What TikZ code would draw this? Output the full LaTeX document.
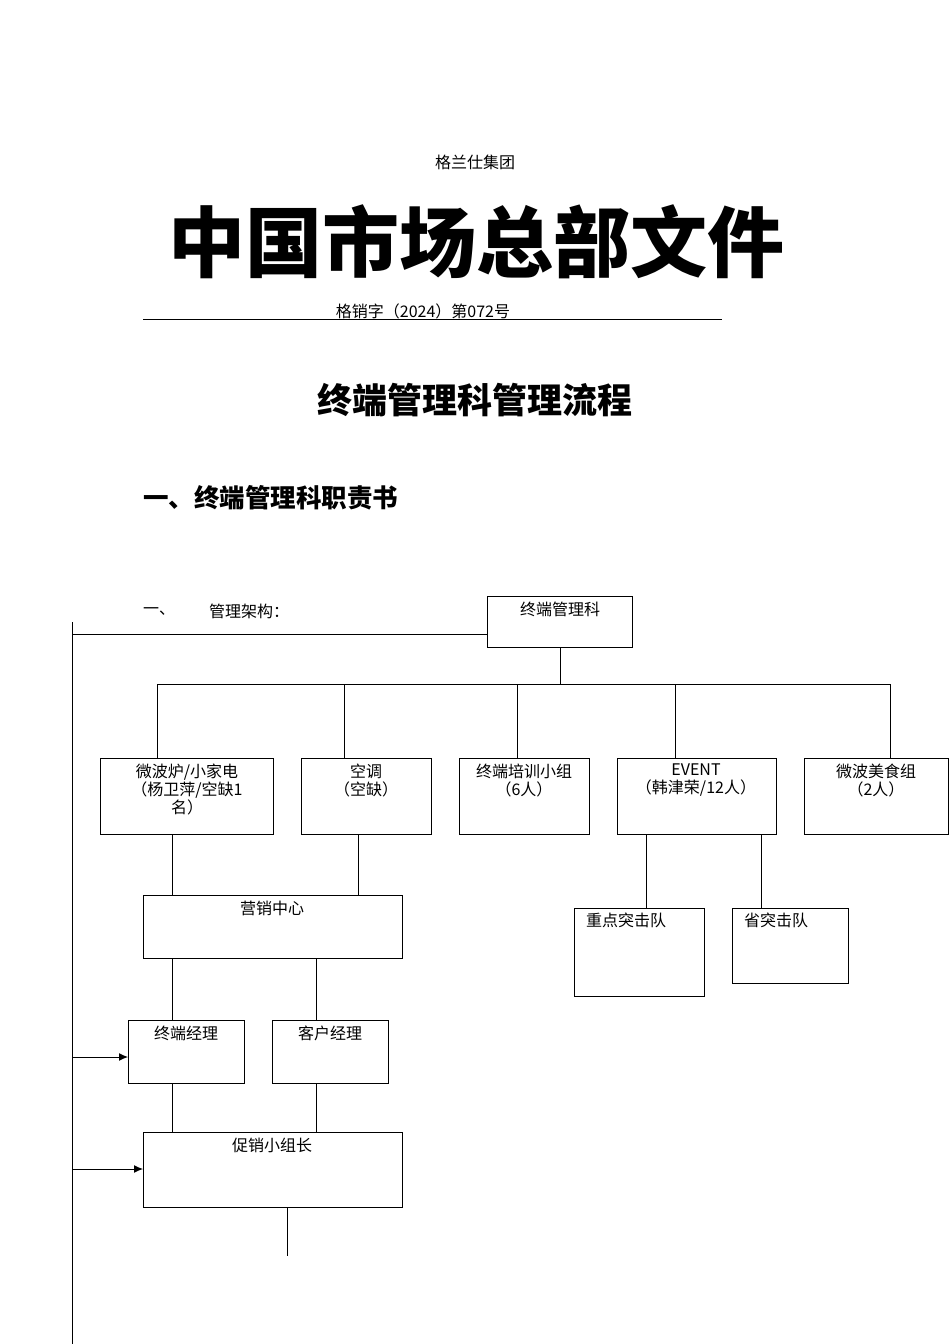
\documentclass[tikz,border=0pt]{standalone}
\usepackage{fontspec}
\usetikzlibrary{arrows.meta}
\setmainfont{Liberation Serif}
\newfontfamily\cjk{Noto Sans CJK SC}
\begin{document}
\begin{tikzpicture}[x=1pt,y=-1pt,
  bx/.style={draw,line width=1pt},
  ln/.style={line width=1pt},
  lab/.style={font=\cjk\fontsize{16}{18}\selectfont,align=center,anchor=north,inner sep=0pt}]
\useasboundingbox (0,0) rectangle (950,1344);
\node[font=\cjk\fontsize{16}{18}\selectfont] (grp) at (475,162) {格兰仕集团};
\node[font=\cjk\bfseries\fontsize{77}{85}\selectfont] (ttl) at (476,242) {中国市场总部文件};
\node[font=\cjk\fontsize{16}{18}\selectfont] (num) at (423,311) {格销字（2024）第072号};
\draw[ln] (143,319) coordinate (r1) -- (722,319) coordinate (r2);
\node[font=\cjk\bfseries\fontsize{35}{40}\selectfont] (h1) at (475,400) {终端管理科管理流程};
\node[font=\cjk\bfseries\fontsize{25.5}{30}\selectfont,anchor=west,inner sep=0pt] (h2) at (143,498) {一、终端管理科职责书};
\node[font=\cjk\fontsize{16}{18}\selectfont,anchor=west,inner sep=0pt] (h3a) at (143,611) {一、};
\node[font=\cjk\fontsize{16}{18}\selectfont,anchor=west,inner sep=0pt] (h3) at (209,611) {管理架构：};
% boxes
\draw[bx] (487,596) rectangle (632,647);
\node[lab] (top) at (560,602) {终端管理科};
\draw[bx] (100,758) rectangle (273,834);
\node[lab] (b1) at (187,764) {微波炉/小家电\\（杨卫萍/空缺1\\名）};
\draw[bx] (301,758) rectangle (431,834);
\node[lab] (b2) at (366,764) {空调\\（空缺）};
\draw[bx] (459,758) rectangle (589,834);
\node[lab] (b3) at (524,764) {终端培训小组\\（6人）};
\draw[bx] (617,758) rectangle (776,834);
\node[lab] (b4) at (696,764) {EVENT\\（韩津荣/12人）};
\draw[bx] (804,758) rectangle (948,834);
\node[lab] (b5) at (876,764) {微波美食组\\（2人）};
\draw[bx] (143,895) rectangle (402,958);
\node[lab] (yx) at (272,901) {营销中心};
\draw[bx] (574,908) rectangle (704,996);
\node[lab,anchor=north west] (zd) at (586,913) {重点突击队};
\draw[bx] (732,908) rectangle (848,983);
\node[lab,anchor=north west] (st) at (744,913) {省突击队};
\draw[bx] (128,1020) rectangle (244,1083);
\node[lab] (zj) at (186,1026) {终端经理};
\draw[bx] (272,1020) rectangle (388,1083);
\node[lab] (kj) at (330,1026) {客户经理};
\draw[bx] (143,1132) rectangle (402,1207);
\node[lab] (cx) at (272,1138) {促销小组长};
% connectors
\draw[ln] (560,647) -- (560,684);
\draw[ln] (157,684) -- (890,684);
\foreach \x in {157,344,517,675,890} \draw[ln] (\x,684) -- (\x,758);
\draw[ln] (172,834) -- (172,895);
\draw[ln] (358,834) -- (358,895);
\draw[ln] (646,834) -- (646,908);
\draw[ln] (761,834) -- (761,908);
\draw[ln] (172,958) -- (172,1020);
\draw[ln] (316,958) -- (316,1020);
\draw[ln] (172,1083) -- (172,1132);
\draw[ln] (316,1083) -- (316,1132);
\draw[ln] (287,1207) -- (287,1256);
\draw[ln] (72,622) -- (72,1344);
\draw[ln] (72,634) -- (487,634);
\draw[ln,-{Latex[length=9pt,width=8pt]}] (72,1057) -- (128,1057);
\draw[ln,-{Latex[length=9pt,width=8pt]}] (72,1169) -- (143,1169);
\end{tikzpicture}
\end{document}
